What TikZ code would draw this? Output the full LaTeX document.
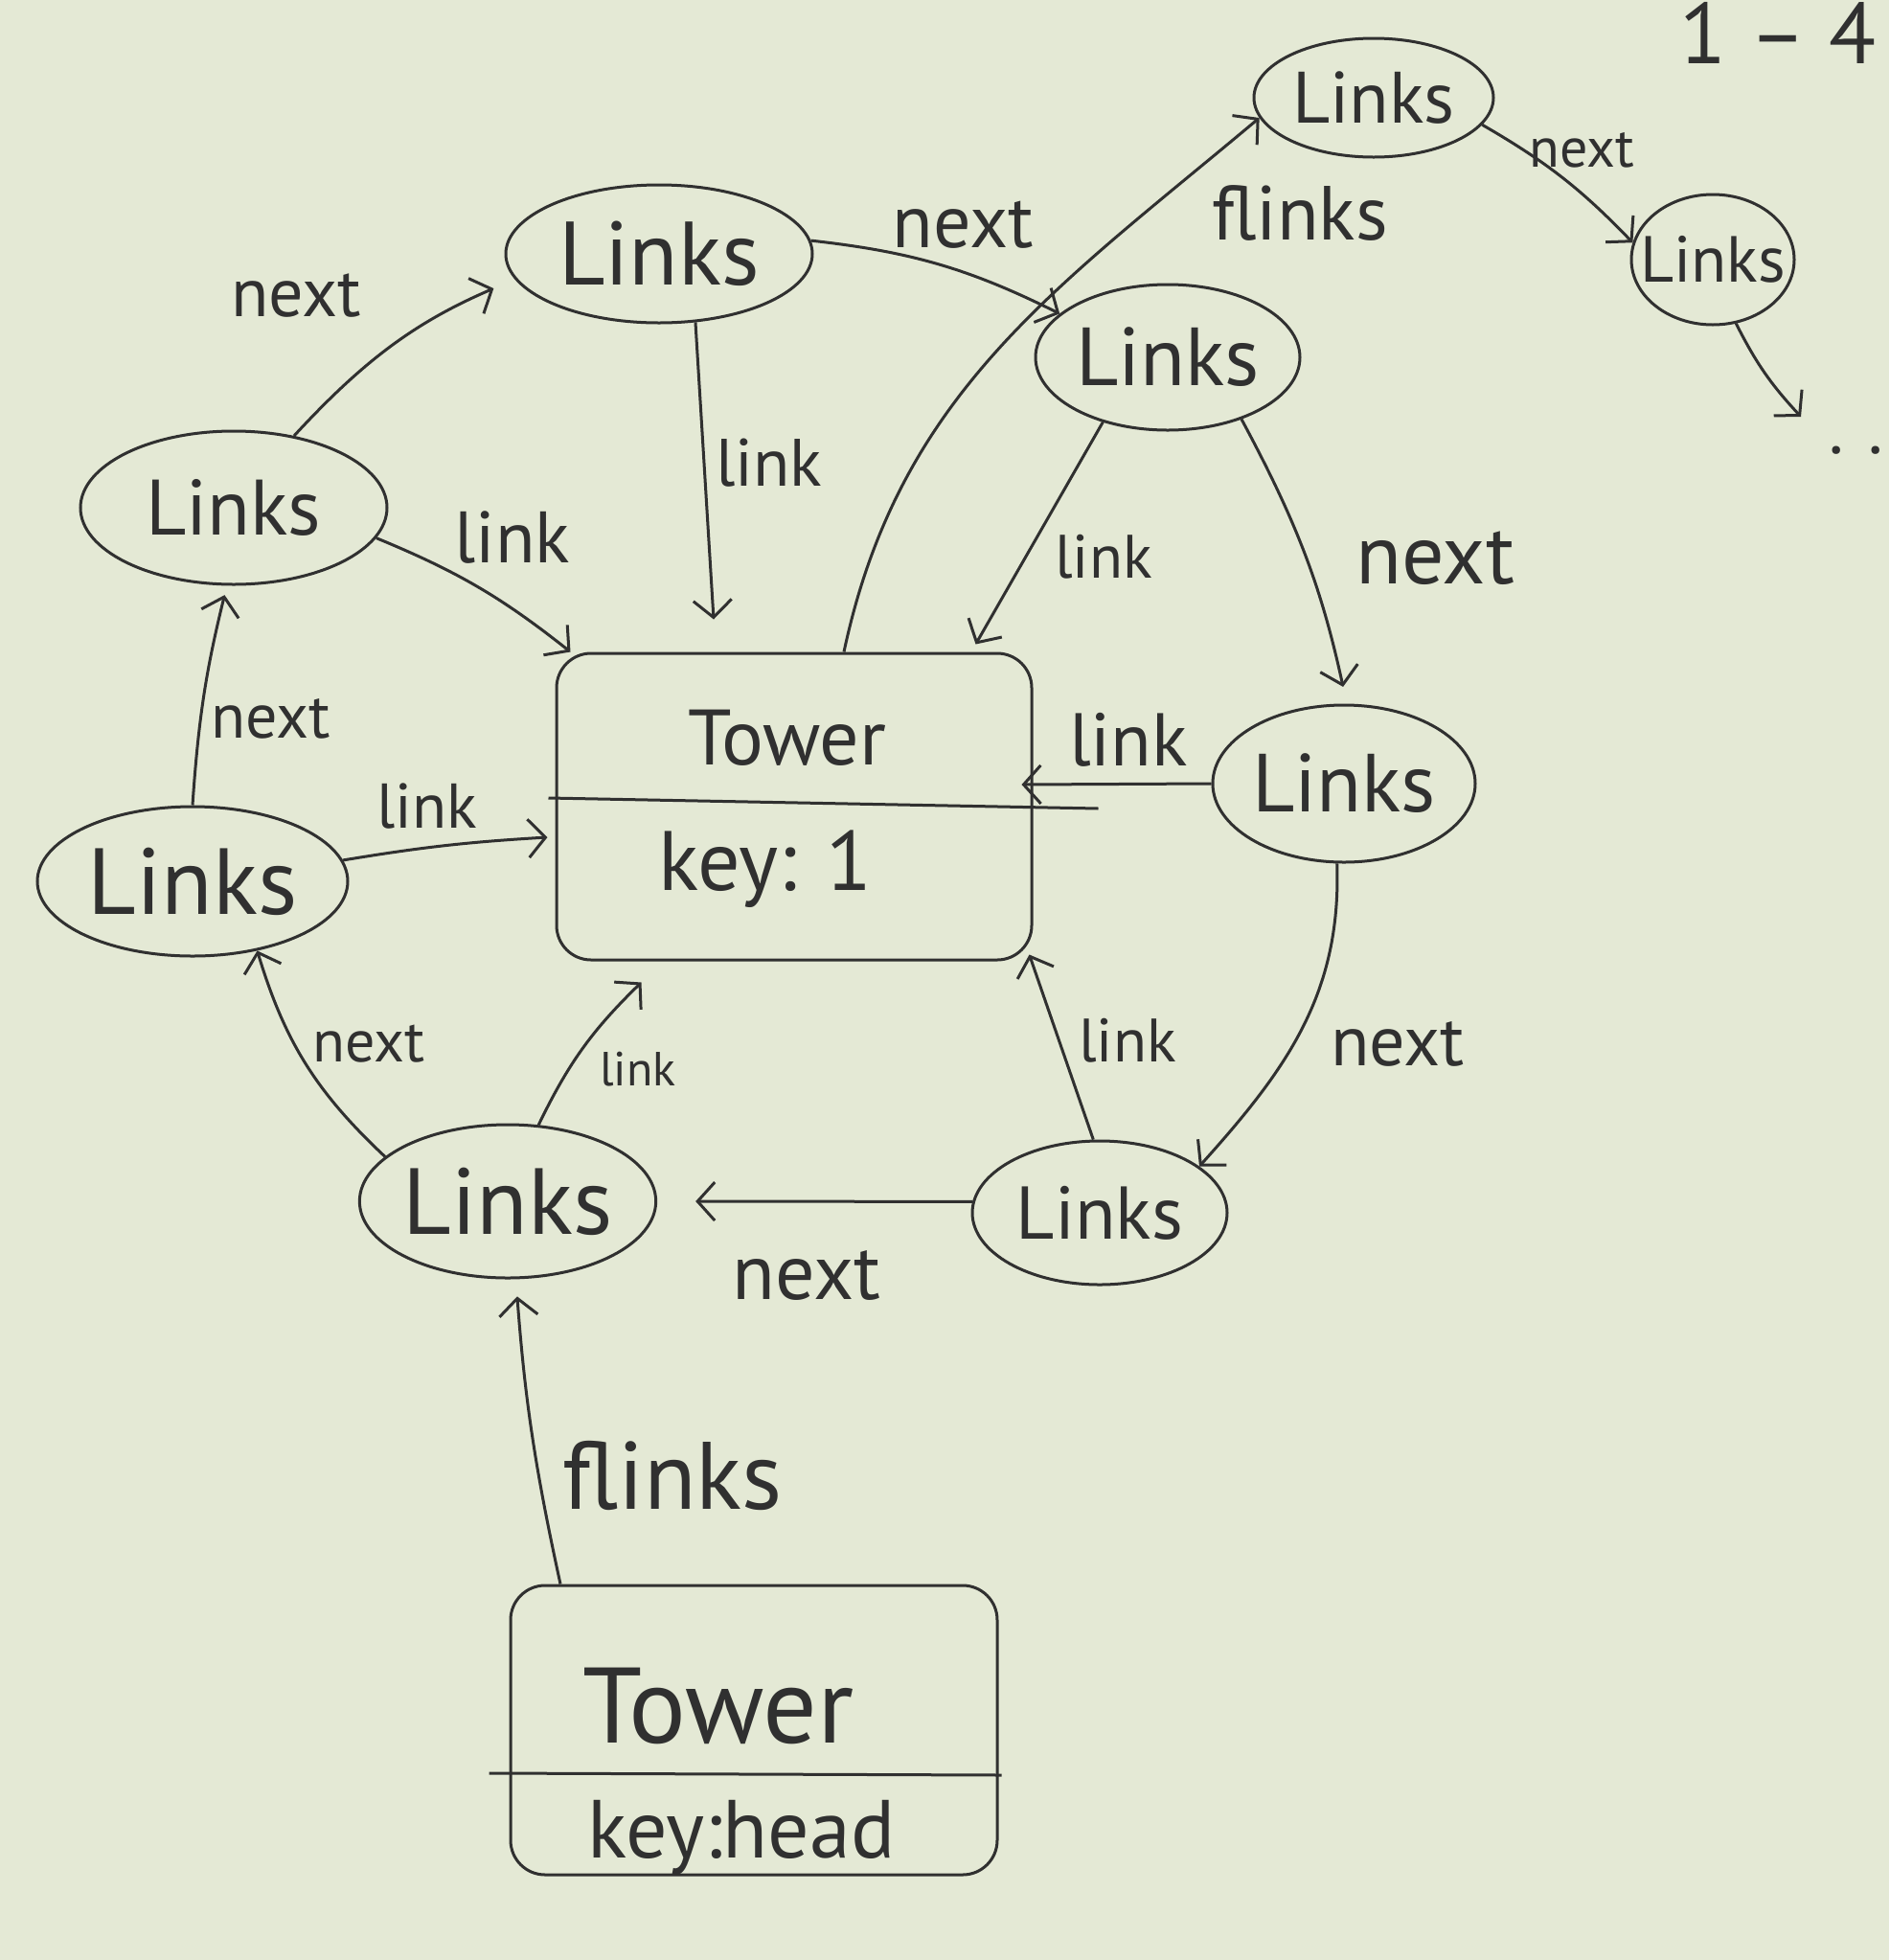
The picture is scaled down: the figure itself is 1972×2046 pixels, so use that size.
\documentclass[tikz,border=0pt]{standalone}
\usepackage{fontspec}
\setmainfont{PT Sans}
\usetikzlibrary{arrows.meta,shapes.geometric}
\definecolor{paper}{RGB}{228,233,213}
\definecolor{inkc}{RGB}{48,48,48}
\begin{document}
\begin{tikzpicture}[x=0.5pt,y=-0.5pt,
  pen/.style={draw=inkc,line width=1.5pt},
  fs/.style={font=\fontsize{#1pt}{#1pt}\selectfont},
  links/.style={pen,ellipse,inner sep=0pt,text=inkc},
  lbl/.style={text=inkc,inner sep=0pt,fs=#1},
  arr/.style={pen,-{Straight Barb[length=9pt,width=20pt,line width=1.5pt]}},
  towerbox/.style={pen,rectangle,rounded corners=18pt,inner sep=0pt}]
\fill[paper] (0,0) rectangle (1972,2046);
\useasboundingbox (0,0) rectangle (1972,2046);

% Links nodes
\node[links,fs=41,minimum width=160pt,minimum height=80pt] (A) at (244,530) {Links};
\node[links,fs=47,minimum width=160pt,minimum height=72pt] (B) at (688,265) {Links};
\node[links,fs=43,minimum width=138pt,minimum height=76pt] (C) at (1219,373) {Links};
\node[links,fs=38,minimum width=125pt,minimum height=62pt] (D) at (1434,102) {Links};
\node[links,fs=34,inner xsep=-8pt,minimum width=85pt,minimum height=68pt] (E) at (1788,271) {Links};
\node[links,fs=43,minimum width=137pt,minimum height=82pt] (F) at (1403,818) {Links};
\node[links,fs=49,minimum width=162pt,minimum height=78pt] (G) at (201,920) {Links};
\node[links,fs=49,minimum width=152pt,minimum height=80pt] (H) at (530,1254) {Links};
\node[links,fs=39,minimum width=133pt,minimum height=75pt] (I) at (1148,1266) {Links};

% Tower key 1
\node[towerbox,minimum width=248pt,minimum height=160pt] (T1) at (829,842) {};
\draw[pen] ([xshift=-3.5pt,yshift=4.5pt]T1.west) -- ([xshift=34pt,yshift=-1pt]T1.east);
\node[lbl=41] (T1name) at (822,770) {Tower};
\node[lbl=44] (T1key) at (799,907) {key: 1};

% Tower head
\node[towerbox,minimum width=254pt,minimum height=151pt] (T0) at (787,1806) {};
\draw[pen] ([xshift=-10.5pt,yshift=-22.5pt]T0.west) -- ([xshift=1.5pt,yshift=-23.5pt]T0.east);
\node[lbl=56] (T0name) at (750,1781) {Tower};
\node[lbl=43] (T0key) at (774,1918) {key:head};

% page mark and continuation dots
\node[lbl=45,anchor=base] (pg) at (1856,66) {1 – 4};
\node[lbl=36] (dots) at (1938,470) {. .};
\coordinate (e9) at (1880,435);

% connectors
\draw[arr,shorten >=12pt] (A.50) to[bend left=12] (B.190);
\draw[arr] (A.-12) to[bend left=8] ([xshift=8pt]T1.north west);
\draw[arr] (B.-62) -- ([xshift=-42pt,yshift=17pt]T1.north);
\draw[arr] (B.5) to[bend left=10] (C.158);
\draw[arr] (C.225) -- ([xshift=-30pt,yshift=4pt]T1.north east);
\draw[arr,shorten >=9pt] (C.-40) to[bend left=8] (F.88);
\draw[arr] ([xshift=26pt]T1.north) to[out=78,in=220] (D.190);
\draw[arr] (D.-14) to[bend left=8] (E.168);
\draw[arr] (E.-70) to[bend right=8] (e9);
\draw[arr] (F.180) -- ([xshift=-6pt,yshift=11.5pt]T1.east);
\draw[arr] (F.-95) to[out=-88,in=48] (I.25);
\draw[arr] (I.95) -- ([xshift=-2pt,yshift=3.5pt]T1.south east);
\draw[arr,shorten >=20pt] (I.175) -- (H.0);
\draw[arr] (H.68) to[bend left=10] ([xshift=45pt,yshift=-11pt]T1.south west);
\draw[arr] (H.160) to[bend left=15] (G.-47);
\draw[arr] (G.8) to[bend left=3] ([xshift=-4pt,yshift=-16pt]T1.west);
\draw[arr,shorten >=5pt] (G.90) to[bend left=5] (A.-95);
\draw[arr,shorten >=9pt] ([xshift=-101pt]T0.north) to[bend left=4] (H.-84);

% labels
\node[lbl=36] (l1) at (309,309) {next};
\node[lbl=38] (l2) at (535,561) {link};
\node[lbl=35] (l3) at (803,483) {link};
\node[lbl=39] (l4) at (1005,235) {next};
\node[lbl=32] (l5) at (1152,581) {link};
\node[lbl=44] (l6) at (1498,583) {next};
\node[lbl=40] (l7) at (1357,222) {flinks};
\node[lbl=29] (l8) at (1651,157) {next};
\node[lbl=39] (l10) at (1178,772) {link};
\node[lbl=37] (l11) at (1459,1090) {next};
\node[lbl=32] (l12) at (1177,1086) {link};
\node[lbl=41] (l13) at (842,1331) {next};
\node[lbl=25] (l14) at (666,1116) {link};
\node[lbl=31] (l15) at (385,1090) {next};
\node[lbl=33] (l16) at (446,842) {link};
\node[lbl=33] (l17) at (283,750) {next};
\node[lbl=50] (l18) at (702,1540) {flinks};
\end{tikzpicture}
\end{document}
